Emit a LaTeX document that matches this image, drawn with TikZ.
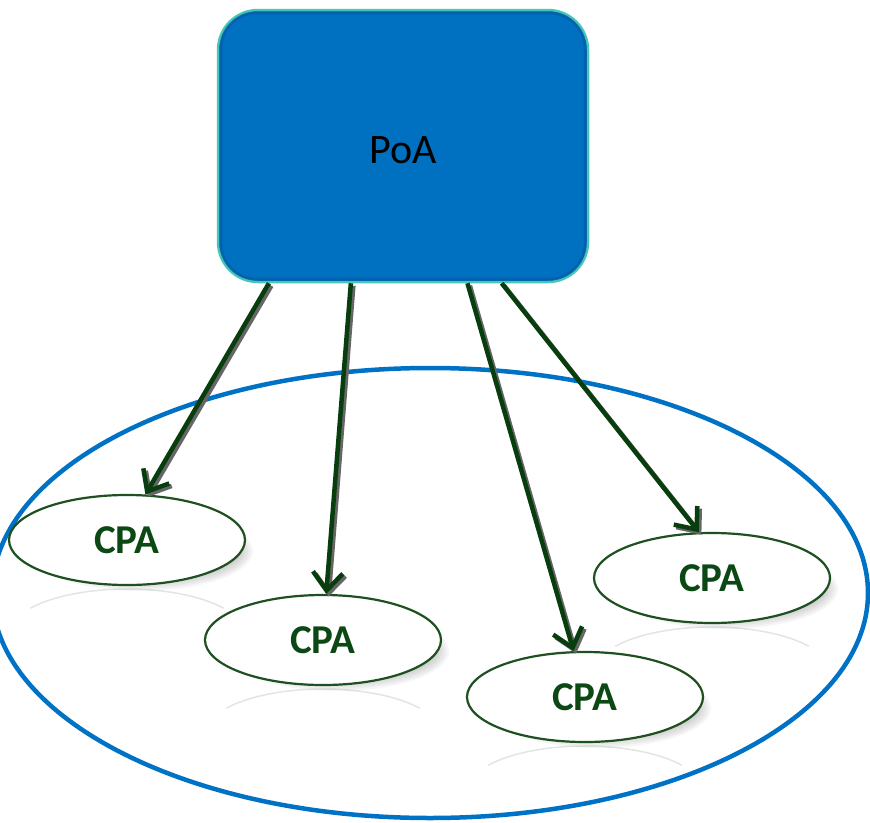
\documentclass[tikz,border=0pt]{standalone}
\usepackage{fontspec}
\setmainfont{Carlito}
\usetikzlibrary{arrows.meta,calc,shapes.geometric}

\definecolor{poablue}{RGB}{0,112,192}
\definecolor{poaedge}{RGB}{70,200,185}
\definecolor{poainner}{RGB}{10,80,150}
\definecolor{ringblue}{RGB}{0,114,198}
\definecolor{cpagreen}{RGB}{30,80,32}
\definecolor{cpatext}{RGB}{12,72,20}
\definecolor{arrowgreen}{RGB}{8,62,14}

\tikzset{
  poabox/.style={rectangle, rounded corners=40pt, fill=poablue, draw=poaedge,
    line width=2.5pt, minimum width=370pt, minimum height=272pt, inner sep=0pt},
  cpanode/.style={ellipse, draw=cpagreen, fill=white, line width=2.2pt,
    minimum width=236pt, minimum height=90pt, inner sep=0pt,
    font=\fontsize{41}{47}\selectfont\bfseries, text=cpatext},
  linkarrow/.style={draw=arrowgreen, line width=4.5pt,
    -{Straight Barb[length=18pt,width=30pt,line width=4.5pt]}},
  linkshadow/.style={draw=black!60, line width=4.5pt,
    -{Straight Barb[length=18pt,width=30pt,line width=4.5pt]}},
}

\begin{document}
\begin{tikzpicture}[x=1pt,y=-1pt]
\useasboundingbox (0,0) rectangle (870,822);

% group boundary
\draw[ringblue, line width=4.5pt] (430,593) ellipse [x radius=438pt, y radius=225pt];

% soft shadows and reflections under the CPA ellipses
\foreach \x/\y in {127/540, 323/640, 585/697, 712/578} {
  \foreach \k in {0,...,7} {
    \fill[black, opacity=0.035]
      (\x+14,\y+11) ellipse [x radius={112pt-2.5pt*\k}, y radius={40pt-2pt*\k}];
  }
  \draw[cpagreen!60!gray, opacity=0.16, line width=1.5pt]
    (\x,\y+94) ++(145:118pt and 45pt)
    arc[start angle=145, end angle=35, x radius=118pt, y radius=45pt];
}

% nodes
\node[poabox] (poa) at (403,146) {};
\draw[poainner, opacity=0.45, line width=3pt, rounded corners=36pt]
  ($(poa.south west)+(4,-4)$) rectangle ($(poa.north east)+(-4,4)$);
\node[font=\fontsize{42}{48}\selectfont, text=black] (poalabel) at (403,150) {PoA};

\node[cpanode] (cpa1) at (127,540) {CPA};
\node[cpanode] (cpa2) at (323,640) {CPA};
\node[cpanode] (cpa3) at (585,697) {CPA};
\node[cpanode] (cpa4) at (712,578) {CPA};

% start points on the bottom side of PoA
\coordinate (s1) at ($(poa.south west)!0.140!(poa.south east)$);
\coordinate (s2) at ($(poa.south west)!0.360!(poa.south east)$);
\coordinate (s3) at ($(poa.south west)!0.673!(poa.south east)$);
\coordinate (s4) at ($(poa.south west)!0.765!(poa.south east)$);

% arrow shadows
\begin{scope}[transform canvas={xshift=2.5pt, yshift=-2.5pt}]
  \draw[linkshadow] (s1) -- (cpa1.68);
  \draw[linkshadow] (s2) -- (cpa2.86);
  \draw[linkshadow] (s3) -- (cpa3.104);
  \draw[linkshadow] (s4) -- (cpa4.106);
\end{scope}

% links from PoA to each CPA
\draw[linkarrow] (s1) -- (cpa1.68);
\draw[linkarrow] (s2) -- (cpa2.86);
\draw[linkarrow] (s3) -- (cpa3.104);
\draw[linkarrow] (s4) -- (cpa4.106);
\end{tikzpicture}
\end{document}
